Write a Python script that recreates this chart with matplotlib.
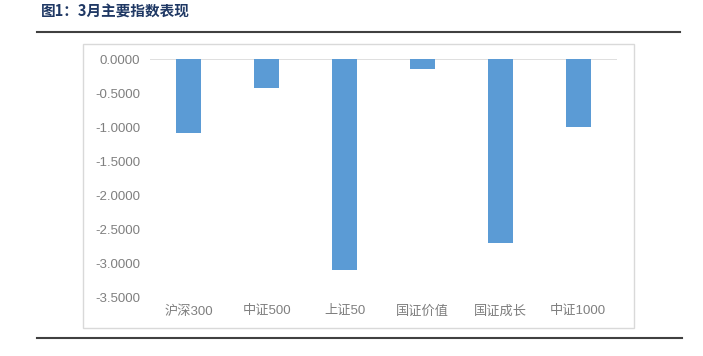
import matplotlib
matplotlib.use("Agg")
import matplotlib.pyplot as plt
from matplotlib.lines import Line2D
from matplotlib.patches import Rectangle

categories = ["沪深300", "中证500", "上证50", "国证价值", "国证成长", "中证1000"]
values = [-1.09, -0.43, -3.11, -0.14, -2.70, -1.00]
yticks = [0.0, -0.5, -1.0, -1.5, -2.0, -2.5, -3.0, -3.5]
title = "图1：3月主要指数表现"

W, H = 703, 356
fig = plt.figure(figsize=(W / 100, H / 100), dpi=100)
fonts = ["Liberation Sans", "Noto Sans CJK SC", "DejaVu Sans"]

# chart frame
fig.patches.append(Rectangle((83 / W, 1 - 328 / H), (634 - 83) / W, (328 - 44) / H,
                             transform=fig.transFigure, fill=False,
                             edgecolor="#D9D9D9", linewidth=1.0))

ax = fig.add_axes([150 / W, 1 - 297 / H, 467 / W, 238 / H])
x = list(range(len(categories)))
ax.bar(x, values, width=0.32, color="#5B9BD5", zorder=3)
ax.axhline(0, color="#D9D9D9", linewidth=1.2, zorder=2)
ax.set_xlim(-0.5, len(categories) - 0.5)
ax.set_ylim(-3.5, 0)
ax.set_yticks(yticks)
ax.set_yticklabels([f"{v:.4f}" for v in yticks], family=fonts, fontsize=9.5, color="#7F7F7F")
ax.set_xticks(x)
ax.set_xticklabels(categories, family=fonts, fontsize=9.5, color="#7F7F7F",
                   fontweight="light")
ax.tick_params(axis="both", length=0)
ax.tick_params(axis="y", pad=7)
ax.tick_params(axis="x", pad=6)
for s in ax.spines.values():
    s.set_visible(False)

# title and rules
fig.text(41 / W, 1 - 12 / H, title, family=["Noto Sans CJK SC", "DejaVu Sans"],
         fontsize=10.5, fontweight="bold", color="#1F3864", va="center", ha="left")
fig.add_artist(Line2D([37 / W, 680 / W], [1 - 32 / H, 1 - 32 / H], color="#404040",
                      linewidth=1.5, transform=fig.transFigure))
fig.add_artist(Line2D([37 / W, 682 / W], [1 - 338 / H, 1 - 338 / H], color="#404040",
                      linewidth=1.5, transform=fig.transFigure))

fig.savefig("out.png", dpi=100)
